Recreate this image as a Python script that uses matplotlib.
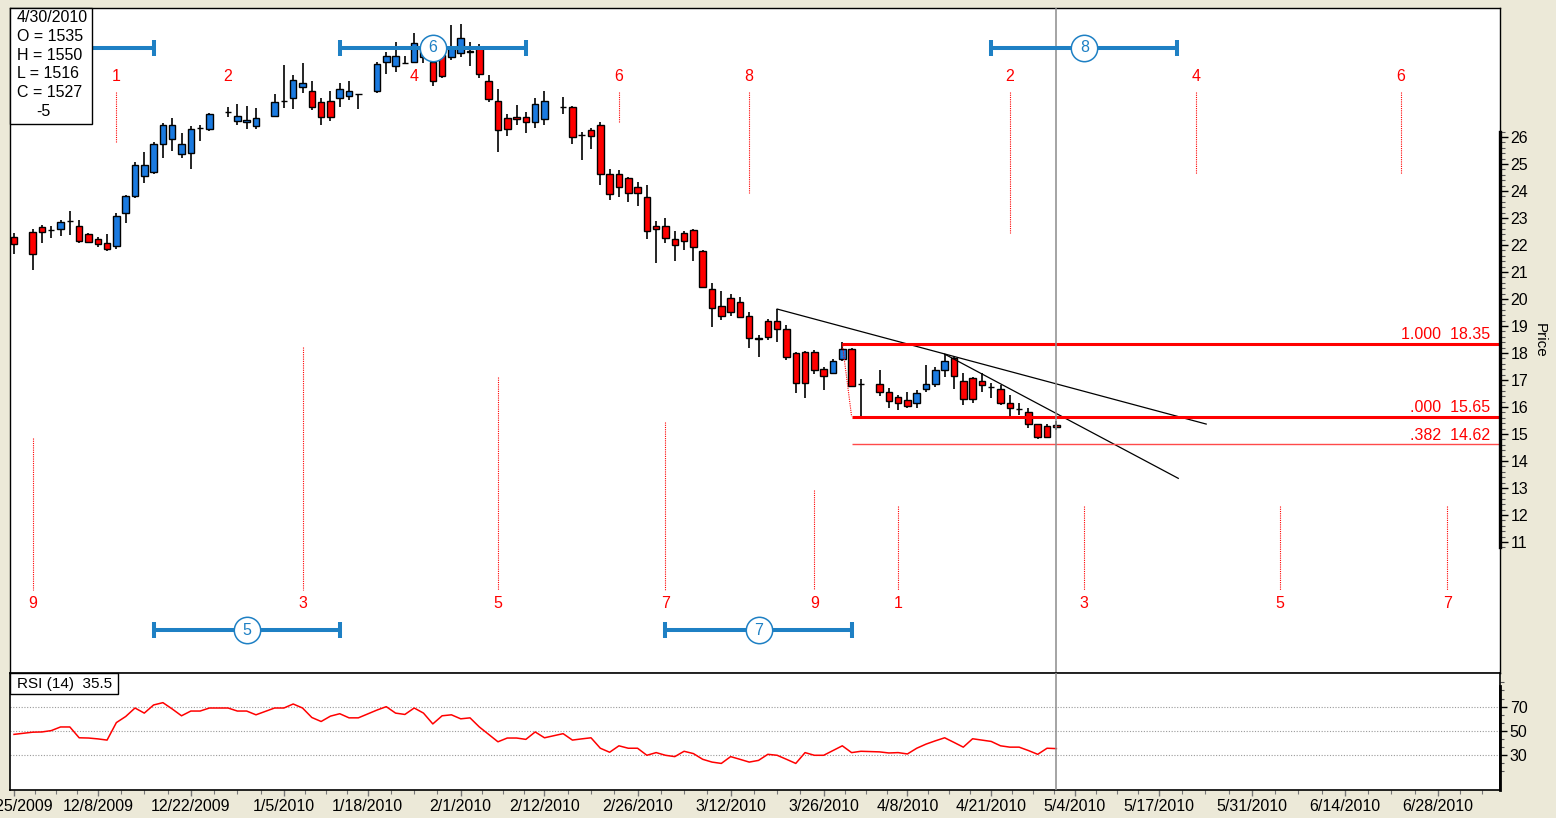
import numpy as np
import pandas as pd
import matplotlib
matplotlib.use('Agg')
import matplotlib.pyplot as plt
from matplotlib.patches import Rectangle

plt.rcParams['font.family'] = ['Liberation Sans', 'DejaVu Sans']
FS = 11.5

BG = '#ece9d8'
BLUE_C = '#1a7ae0'
RED_C = '#ff0000'
SEG_C = '#1e80c4'

# --- daily bars (weekday axis, holidays have no bar) ---
start = '2009-11-25'
holidays = ['2009-11-26', '2009-12-25', '2010-01-01', '2010-01-18', '2010-02-15', '2010-04-02']

opens = [22.29, 22.49, 22.68, 22.56, 22.59, 22.89, 22.71, 22.40, 22.21, 22.06,
         21.97, 23.20, 23.83, 24.57, 24.69, 25.74, 25.91, 25.37, 25.40, 26.32, 26.29,
         26.91, 26.60, 26.54, 26.41,
         26.78, 27.33, 27.43, 27.84, 27.70, 27.29, 27.33, 27.43, 27.53, 27.58,
         27.70, 28.77, 28.63, 28.75, 28.77, 28.95, 28.79, 29.04, 28.97, 29.10, 29.16, 29.31, 28.07, 27.33, 26.69, 26.75, 26.75, 26.54, 26.66,
         27.10, 27.12, 26.07, 26.26, 26.44, 24.63, 24.63, 24.47, 24.14, 23.79, 22.70, 22.70, 22.21, 22.46, 22.56, 21.78, 20.37,
         19.74, 20.03, 19.88, 19.38, 18.54, 19.19, 19.19, 18.89, 18.01, 18.05, 18.03, 17.40, 17.27, 17.77, 18.15, 16.84,
         16.85, 16.54, 16.36, 16.26, 16.14, 16.66, 16.84, 17.37, 17.80, 16.96, 17.06, 16.96, 16.75, 16.66, 16.14, 15.93, 15.83, 15.37, 15.30, 15.35]
highs = [22.44, 22.58, 22.74, 22.70, 22.93, 23.27, 22.93, 22.44, 22.31, 22.40,
         23.17, 23.85, 25.09, 25.46, 25.83, 26.53, 26.69, 26.16, 26.41, 26.44, 26.88,
         27.10, 27.22, 27.15, 27.06,
         27.58, 28.67, 28.30, 28.73, 28.07, 27.46, 27.71, 28.01, 28.07, 27.58,
         28.79, 29.16, 29.53, 28.99, 29.86, 29.60, 29.00, 29.25, 30.15, 30.17, 29.53, 29.43, 28.30, 27.77, 26.85, 27.19, 26.94, 27.43, 27.70,
         27.49, 27.16, 26.20, 26.34, 26.54, 24.81, 24.78, 24.53, 24.35, 24.22, 22.90, 22.99, 22.52, 22.52, 22.59, 21.81, 20.58,
         20.30, 20.19, 20.08, 19.53, 18.67, 19.25, 19.63, 19.04, 18.03, 18.07, 18.11, 17.47, 17.77, 18.40, 18.17, 17.04,
         17.37, 16.71, 16.44, 16.57, 16.63, 17.56, 17.49, 17.96, 17.86, 17.25, 17.12, 17.27, 16.88, 16.81, 16.44, 16.14, 15.97, 15.37, 15.37, 15.50]
lows = [21.67, 21.07, 22.09, 22.25, 22.33, 22.37, 22.06, 22.06, 21.94, 21.79,
        21.84, 22.83, 23.73, 24.31, 24.63, 25.21, 25.49, 25.21, 24.80, 25.86, 26.24,
        26.75, 26.44, 26.29, 26.29,
        26.73, 27.06, 27.04, 27.64, 27.00, 26.44, 26.60, 27.12, 27.37, 27.04,
        27.62, 28.33, 28.42, 28.73, 28.73, 28.75, 27.89, 28.17, 28.85, 28.97, 28.63, 28.17, 27.31, 25.46, 26.05, 26.44, 26.16, 26.32, 26.44,
        26.84, 25.74, 25.15, 25.56, 24.22, 23.67, 23.79, 23.58, 23.44, 22.21, 21.32, 22.09, 21.41, 21.81, 21.41, 20.40, 18.97,
        19.22, 19.37, 19.29, 18.17, 17.84, 18.48, 18.40, 17.74, 16.53, 16.32, 17.21, 16.63, 17.21, 17.71, 16.75, 15.65,
        16.41, 15.97, 15.89, 15.95, 15.95, 16.57, 16.75, 17.12, 16.66, 16.07, 16.16, 16.57, 16.32, 16.07, 15.54, 15.70, 15.23, 14.80, 14.86, 15.16]
closes = [22.04, 21.67, 22.49, 22.55, 22.86, 22.90, 22.16, 22.10, 22.04, 21.84,
          23.09, 23.83, 24.96, 24.96, 25.74, 26.44, 26.44, 25.74, 26.30, 26.33, 26.84,
          26.92, 26.79, 26.65, 26.69,
          27.29, 27.34, 28.11, 27.99, 27.12, 26.75, 26.75, 27.77, 27.70, 27.58,
          28.70, 29.00, 29.00, 28.75, 29.47, 29.35, 28.07, 28.27, 29.34, 29.66, 29.17, 28.33, 27.40, 26.26, 26.30, 26.66, 26.54, 27.22, 27.34,
          27.11, 26.01, 26.06, 26.05, 24.63, 23.89, 24.14, 23.94, 23.91, 22.52, 22.59, 22.27, 22.00, 22.15, 21.91, 20.46, 19.68,
          19.38, 19.51, 19.32, 18.54, 18.53, 18.58, 18.89, 17.86, 16.90, 16.90, 17.37, 17.16, 17.70, 18.15, 16.78, 16.85,
          16.57, 16.22, 16.14, 16.04, 16.51, 16.85, 17.37, 17.70, 17.16, 16.29, 16.29, 16.81, 16.76, 16.16, 15.97, 15.94, 15.37, 14.90, 14.90, 15.27]
rsi = [47.2, 49.0, 49.2, 50.3, 53.3, 53.3, 44.4, 44.2, 43.5, 42.5,
       56.9, 61.9, 68.9, 64.7, 71.4, 73.3, 68.1, 62.5, 66.4, 66.4, 68.9,
       68.9, 66.4, 66.4, 63.3,
       68.9, 68.9, 72.2, 68.9, 61.1, 57.8, 62.2, 64.2, 60.8, 60.8,
       67.2, 70.0, 64.7, 63.6, 68.9, 64.7, 55.8, 62.5, 63.3, 60.0, 60.8, 53.3, 47.2, 41.1, 44.2, 44.2, 43.1, 49.2, 44.4,
       47.8, 42.5, 43.5, 44.4, 35.8, 32.5, 37.8, 35.8, 35.8, 30.0, 32.2, 30.0, 28.9, 33.3, 31.4, 26.7, 24.4,
       23.3, 28.9, 26.7, 24.4, 25.8, 30.8, 30.0, 26.7, 23.3, 32.2, 30.0, 30.0, 33.9, 37.8, 32.2, 33.3,
       32.8, 31.9, 32.2, 31.1, 35.8, 39.2, 41.9, 44.4, 40.6, 36.7, 43.6, 42.5, 41.4, 37.8, 36.7, 36.7, 33.9, 30.8, 35.8, 35.5]

tick_dates = ['11/25/2009', '12/8/2009', '12/22/2009', '1/5/2010', '1/18/2010', '2/1/2010',
              '2/12/2010', '2/26/2010', '3/12/2010', '3/26/2010', '4/8/2010', '4/21/2010',
              '5/4/2010', '5/17/2010', '5/31/2010', '6/14/2010', '6/28/2010']

# trendlines: (bar, price) -> (bar, price)
trend_lines = [((82, 19.63), (128.1, 15.37)),
               ((100, 17.96), (125.1, 13.36))]

# fibonacci
fib_hi, fib_lo = 18.35, 15.65
fib_hi_x, fib_lo_x = 89, 90
fib_ratios = [1.0, 0.0, 0.382]

# cycle counts
top_lbl = ['1', '2', '4', '6', '8', '2', '4', '6']
top_x = [11, 23, 43, 65, 79, 107, 127, 149]
top_end = [25.78, np.nan, np.nan, 26.52, 23.93, 22.44, 24.63, 24.63]
bot_lbl = ['9', '3', '5', '7', '9', '1', '3', '5', '7']
bot_x = [2, 31, 52, 70, 86, 95, 115, 136, 154]
bot_start = [14.85, 18.22, 17.11, 15.44, 12.93, 12.33, 12.33, 12.33, 12.33]

seg_lbl = ['4', '5', '6', '7', '8']
seg_start = [-5, 15, 35, 70, 105]
seg_end = [15, 35, 55, 90, 125]
seg_top = [True, False, True, False, True]

# --- positions ---
days = pd.bdate_range(start, '2010-04-30')
days = days[~days.isin(pd.to_datetime(holidays))]
d0 = np.datetime64(start, 'D')
x = np.busday_count(d0, days.values.astype('datetime64[D]'))
o, h, l, c = map(np.array, (opens, highs, lows, closes))

tick_pos = np.busday_count(d0, pd.to_datetime(tick_dates).values.astype('datetime64[D]'))
minor = []
for a, b in zip(tick_pos[:-1], tick_pos[1:]):
    minor += [a + (b - a) * k / 4 for k in (1, 2, 3)]
minor += [tick_pos[-1] + 2.35, tick_pos[-1] + 4.7]

W, H = 1556, 818
fig = plt.figure(figsize=(W / 100, H / 100), dpi=100, facecolor=BG)
ax = fig.add_axes([10 / W, (H - 673) / H, 1490 / W, 665 / H])
ax2 = fig.add_axes([10 / W, (H - 790) / H, 1490 / W, 117 / H], sharex=ax)

XL = (-0.43, 159.67)
ax.set_xlim(*XL)
ax.set_ylim(6.15, 30.78)
ax2.set_ylim(1.44, 97.7)

# candles
ax.vlines(x, l, h, color='black', lw=1.2, zorder=2)
cols = np.where(c >= o, BLUE_C, RED_C)
ax.bar(x, np.abs(c - o), bottom=np.minimum(o, c), width=0.7, color=cols,
       edgecolor='black', linewidth=1.0, zorder=3)

# trendlines
for (x1, y1), (x2, y2) in trend_lines:
    ax.plot([x1, x2], [y1, y2], color='black', lw=0.9, zorder=4)

# fib
for r in fib_ratios:
    lvl = fib_lo + r * (fib_hi - fib_lo) if r >= 0.5 or r == 0 else fib_lo - r * (fib_hi - fib_lo)
    x0 = fib_hi_x if r == 1.0 else fib_lo_x
    thick = r in (0.0, 1.0)
    ax.plot([x0, XL[1]], [lvl, lvl], color=RED_C if thick else '#ff4a4a',
            lw=2.2 if thick else 1.0, zorder=4, solid_capstyle='butt')
    txt = f'{r:.3f}'.lstrip('0') if r < 1 else f'{r:.3f}'
    ax.annotate(f'{txt}  {lvl:.2f}', xy=(1 - 10 / 1490, lvl), xycoords=('axes fraction', 'data'),
                xytext=(0, 1), textcoords='offset points', ha='right', va='bottom',
                color=RED_C, fontsize=FS)
ax.plot([fib_hi_x, fib_lo_x], [fib_hi, fib_lo], color=RED_C, lw=0.8, ls=(0, (1, 1)), zorder=4)

# cycle counts
for lb, xi, ye in zip(top_lbl, top_x, top_end):
    ax.text(xi, 28.26, lb, color=RED_C, fontsize=FS, ha='center', va='center', zorder=5)
    if not np.isnan(ye):
        ax.plot([xi, xi], [27.67, ye], color=RED_C, lw=0.8, ls=(0, (1, 1)), zorder=1)
for lb, xi, ys in zip(bot_lbl, bot_x, bot_start):
    ax.text(xi, 8.74, lb, color=RED_C, fontsize=FS, ha='center', va='center', zorder=5)
    ax.plot([xi, xi], [ys, 9.22], color=RED_C, lw=0.8, ls=(0, (1, 1)), zorder=1)

for lb, s, e, top in zip(seg_lbl, seg_start, seg_end, seg_top):
    lvl = 29.30 if top else 7.74
    ax.plot([s, e], [lvl, lvl], color=SEG_C, lw=2.9, solid_capstyle='butt', zorder=6)
    ax.plot([s, e], [lvl, lvl], ls='none', marker='|', ms=11.5, mew=2.9, color=SEG_C, zorder=6)
    m = (s + e) / 2
    if m < 10:
        continue  # circle sits under the data box
    ax.plot(m, lvl, 'o', ms=19, mfc='white', mec=SEG_C, mew=1.1, zorder=7)
    ax.text(m, lvl, lb, color=SEG_C, fontsize=FS, ha='center', va='center', zorder=8)

# crosshair
ax.axvline(x[-1], color='#8c8c8c', lw=1.1, zorder=5)
ax2.axvline(x[-1], color='#8c8c8c', lw=1.1, zorder=5)

# data box
ax.add_patch(Rectangle((0, 0.8256), 0.055, 0.1744, transform=ax.transAxes, facecolor='white',
                       edgecolor='black', lw=1.0, zorder=10, clip_on=False))
box_lines = ['4/30/2010', f'O = {o[-1] * 100:.0f}', f'H = {h[-1] * 100:.0f}',
             f'L = {l[-1] * 100:.0f}', f'C = {c[-1] * 100:.0f}']
for i, t in enumerate(box_lines):
    ax.text(7 / 1490, (673 - 18 - i * 18.6) / 665, t, transform=ax.transAxes, fontsize=FS,
            ha='left', va='center', zorder=11)
ax.text(26 / 1490, (673 - 111) / 665, '-5', transform=ax.transAxes, fontsize=FS,
        ha='left', va='center', zorder=11)

# price axis
ax.yaxis.tick_right()
ax.set_yticks(range(11, 27))
ax.set_yticks(np.arange(10.8, 26.21, 0.2), minor=True)
ax.tick_params(axis='y', which='major', length=6, width=1, pad=1.5, labelsize=FS)
ax.tick_params(axis='y', which='minor', length=3.5, width=0.8, color='#555555')
ax.tick_params(axis='x', which='both', bottom=False, labelbottom=False)
ax.plot([1, 1], [10.81, 26.19], transform=ax.get_yaxis_transform(), color='black', lw=2.4,
        clip_on=False, zorder=12)
for sp in ax.spines.values():
    sp.set_linewidth(1.0)
fig.text(1540 / W, 1 - 340 / H, 'Price', rotation=270, ha='center', va='center', fontsize=11)

# RSI
for v in (30, 50, 70):
    ax2.axhline(v, color='#9a9a9a', lw=0.8, ls=(0, (1, 1.5)), zorder=1)
ax2.plot(x, rsi, color=RED_C, lw=1.1, zorder=3)
ax2.yaxis.tick_right()
ax2.set_yticks([30, 50, 70])
ax2.set_yticks([v for v in np.arange(70 - 20 / 3 * 8, 90, 20 / 3) if min(abs(v - t) for t in (30, 50, 70)) > 1], minor=True)
ax2.tick_params(axis='y', which='major', length=5, width=1, pad=2, labelsize=FS)
ax2.tick_params(axis='y', which='minor', length=3, width=0.8, color='#555555')
ax2.plot([1, 1], [1.44, 87], transform=ax2.get_yaxis_transform(), color='black', lw=2.0,
         clip_on=False, zorder=12)
ax2.add_patch(Rectangle((0, (790 - 694) / 117), 108 / 1490, 21 / 117, transform=ax2.transAxes,
                        facecolor='white', edgecolor='black', lw=1.0, zorder=10))
ax2.text(7 / 1490, (790 - 684) / 117, f'RSI (14)  {rsi[-1]:.1f}', transform=ax2.transAxes,
         fontsize=11, ha='left', va='center', zorder=11)

ax2.set_xticks(tick_pos)
ax2.set_xticklabels(tick_dates)
ax2.set_xticks(minor, minor=True)
ax2.tick_params(axis='x', which='major', length=4, width=1, pad=2.5, labelsize=FS, color='#777777')
ax2.tick_params(axis='x', which='minor', length=3, width=0.8, color='#777777')
for sp in ax2.spines.values():
    sp.set_linewidth(1.2)

fig.savefig('out.png', dpi=100, facecolor=BG)
